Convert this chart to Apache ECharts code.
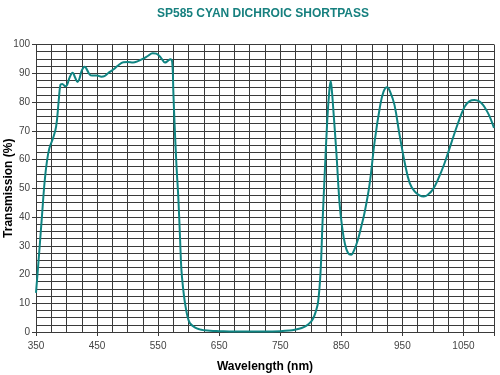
<!DOCTYPE html>
<html>
<head>
<meta charset="utf-8">
<script src="https://cdn.jsdelivr.net/npm/echarts@6/dist/echarts.min.js"></script>
<style>html,body{margin:0;padding:0;background:#fff;}#c{width:500px;height:375px;}</style>
</head>
<body>
<div id="c"></div>
<script>
var titleText = 'SP585 CYAN DICHROIC SHORTPASS';
var xName = 'Wavelength (nm)';
var yName = 'Transmission (%)';
var wavelength = [350,355,360,364,368,372,378,383,387,390,393,398,401,405,410,414,418,421,425,430,434,438,442,450,457,462,468,476,485,493,500,509,517,525,533,541,547,552,557,561,566,570,573,575,577,580,583,586,588,591,594,598,602,610,618,626,635,650,675,700,725,750,765,774,785,793,800,804,808,812,816,819,823,827,830,832.5,834.5,837,842,847,851,856,861,866,871,877,883,888,896,905,913,919,925,930,937,945,954,962,970,978,985,992,1000,1008,1019,1030,1041,1052,1060,1068,1076,1082,1088,1093,1100];
var transmission = [13.6,27,41,52,59.5,64,67.5,71.5,80,86,86.3,85.5,86,88.5,90.2,88.5,87,88,91,92.3,91,89.5,89.2,89.2,88.8,89,90,91.2,92.8,93.8,93.9,93.7,94.2,95,96,97,96.8,96,94.7,93.7,94.3,94.9,94,83,72,58,47,32,22,15,10,5.5,3.1,1.6,0.9,0.6,0.4,0.3,0.2,0.2,0.2,0.3,0.5,0.8,1.4,2.2,3.5,4.8,7,10.5,21,37,56,73.8,83,87.3,84,77,62,45,37,30.5,27.5,26.9,28.5,32,37,41.5,51,67,78,83.5,85.1,83.5,79,69,58.7,51.8,48.9,47.5,47.1,47.8,49.6,52.9,58.7,65.7,72.6,78.4,80.3,80.7,80.2,79,77,74.9,71];
var xTickLabels = ['350','450','550','650','750','850','950','1050'];

var data = wavelength.map(function(w,i){return [w, transmission[i]];});
var gridColor = '#3a3a3a';
var chart = echarts.init(document.getElementById('c'));
chart.setOption({
  animation: false,
  title: {
    text: titleText, left: 258, textAlign: 'center', top: 3,
    textStyle: {color: '#17807f', fontFamily: 'Liberation Sans, Arial', fontWeight: 'bold', fontSize: 12}
  },
  grid: {left: 36, right: 6, top: 44.5, bottom: 43, containLabel: false, outerBoundsMode: 'none'},
  xAxis: [{
    type: 'value', min: 350, max: 1100, interval: 25,
    axisLine: {show: true, lineStyle: {color: gridColor, width: 1}},
    axisTick: {show: false},
    axisLabel: {show: false},
    splitLine: {show: true, lineStyle: {color: gridColor, width: 1}}
  }, {
    type: 'value', min: 350, max: 1100, interval: 100, position: 'bottom',
    name: xName, nameLocation: 'middle', nameGap: 29, nameMoveOverlap: false,
    nameTextStyle: {color: '#000', fontFamily: 'Liberation Sans, Arial', fontWeight: 'bold', fontSize: 12},
    axisLine: {show: false},
    axisTick: {show: true, length: 4, lineStyle: {color: gridColor}},
    axisLabel: {
      color: '#444', fontFamily: 'Liberation Sans, Arial', fontSize: 10, margin: 9,
      formatter: function(v){ var s = String(v); return xTickLabels.indexOf(s) >= 0 ? s : ''; }
    },
    splitLine: {show: false}
  }],
  yAxis: {
    type: 'value', min: 0, max: 100, interval: 10,
    name: yName, nameLocation: 'middle', nameGap: 21, nameRotate: 90, nameMoveOverlap: false,
    nameTextStyle: {color: '#000', fontFamily: 'Liberation Sans, Arial', fontWeight: 'bold', fontSize: 12},
    axisLine: {show: true, lineStyle: {color: gridColor, width: 1}},
    axisTick: {show: true, length: 4, lineStyle: {color: gridColor}},
    axisLabel: {color: '#444', fontFamily: 'Liberation Sans, Arial', fontSize: 10, margin: 6},
    splitLine: {show: true, lineStyle: {color: gridColor, width: 1}},
    minorTick: {show: false, splitNumber: 4},
    minorSplitLine: {show: true, lineStyle: {color: gridColor, width: 1}}
  },
  series: [{
    type: 'line', xAxisIndex: 0, data: data, smooth: 0.4, symbol: 'none',
    lineStyle: {color: '#0f8482', width: 2}
  }]
});
</script>
</body>
</html>
